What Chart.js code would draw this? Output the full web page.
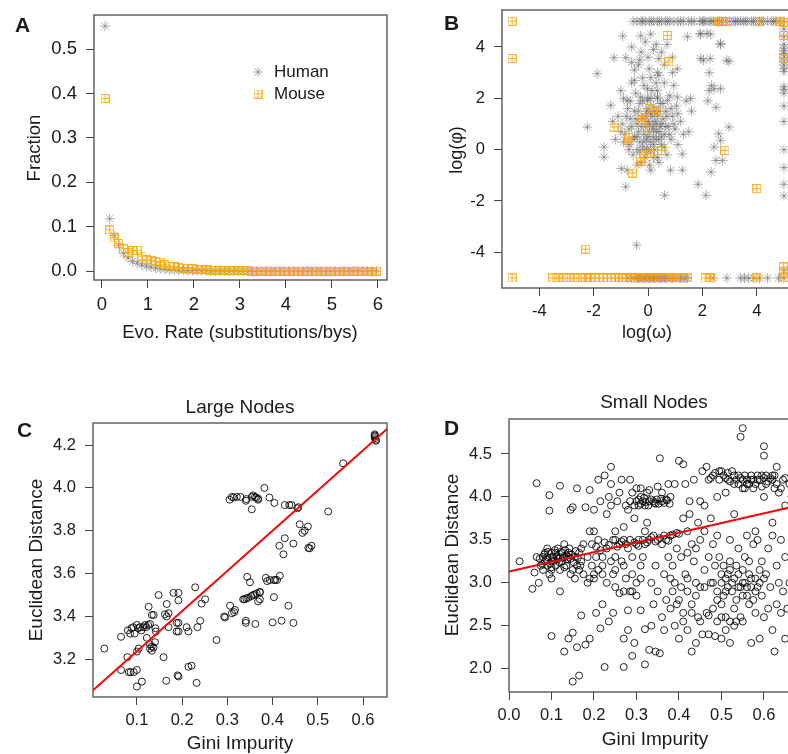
<!DOCTYPE html>
<html>
<head>
<meta charset="utf-8">
<script src="https://cdn.jsdelivr.net/npm/chart.js@4.4.0/dist/chart.umd.min.js"></script>
<style>
html, body { margin: 0; padding: 0; overflow: hidden; background: #fff; }
body { position: relative; width: 788px; height: 754px; font-family: "Liberation Sans", Arial, sans-serif; color: #1a1a1a; }
canvas { position: absolute; }
.lbl { position: absolute; white-space: nowrap; line-height: 1; transform: translate(-50%, -50%); }
.rot { transform: translate(-50%, -50%) rotate(-90deg); }
.tag { position: absolute; font-weight: bold; font-size: 21px; line-height: 21px; }
</style>
</head>
<body>
<canvas id="chartA" width="394" height="350" style="left:0;top:0"></canvas>
<canvas id="chartB" width="420" height="350" style="left:394px;top:0"></canvas>
<canvas id="chartC" width="394" height="374" style="left:0;top:380px"></canvas>
<canvas id="chartD" width="420" height="374" style="left:394px;top:380px"></canvas>

<div class="tag" style="left:15px;top:14px">A</div>
<div class="tag" style="left:444px;top:12px">B</div>
<div class="tag" style="left:17px;top:419px">C</div>
<div class="tag" style="left:444px;top:417px">D</div>

<div class="lbl rot" style="left:34px;top:148px;font-size:18.5px">Fraction</div>
<div class="lbl" style="left:240px;top:332px;font-size:18.5px">Evo. Rate (substitutions/bys)</div>
<div class="lbl rot" style="left:456px;top:150px;font-size:18px">log(φ)</div>
<div class="lbl" style="left:647px;top:332px;font-size:18px">log(ω)</div>
<div class="lbl" style="left:240px;top:406px;font-size:19px">Large Nodes</div>
<div class="lbl rot" style="left:35px;top:560px;font-size:19px">Euclidean Distance</div>
<div class="lbl" style="left:240px;top:742px;font-size:19px">Gini Impurity</div>
<div class="lbl" style="left:654px;top:401px;font-size:19px">Small Nodes</div>
<div class="lbl rot" style="left:451px;top:555px;font-size:19px">Euclidean Distance</div>
<div class="lbl" style="left:655px;top:738px;font-size:19px">Gini Impurity</div>

<script>
// ---- A: fraction of genes by evolutionary rate ----
const evoRate = [0.07,0.17,0.27,0.37,0.47,0.57,0.67,0.77,0.87,0.97,1.07,1.17,1.27,1.37,1.47,1.57,1.67,1.77,1.87,1.97,
  2.07,2.17,2.27,2.37,2.47,2.57,2.67,2.77,2.87,2.97,3.07,3.17,3.27,3.37,3.47,3.57,3.67,3.77,3.87,3.97,
  4.07,4.17,4.27,4.37,4.47,4.57,4.67,4.77,4.87,4.97,5.07,5.17,5.27,5.37,5.47,5.57,5.67,5.77,5.87,5.97];
const humanFrac = [0.552,0.118,0.080,0.058,0.040,0.030,0.022,0.018,0.014,0.011,0.009,0.007,0.005,0.004,0.003,0.003,0.002,0.002,0.001,0.001,
  0.001,0.001,0.001,0,0,0,0,0,0,0,0,0,0,0,0,0,0,0,0,0,
  0,0,0,0,0,0,0,0,0,0,0,0,0,0,0,0,0,0,0,0];
const mouseFrac = [0.389,0.093,0.075,0.062,0.050,0.042,0.046,0.047,0.034,0.026,0.023,0.022,0.020,0.014,0.011,0.010,0.008,0.007,0.007,0.006,
  0.004,0.003,0.003,0.002,0.002,0.001,0.002,0.001,0.001,0.001,0.001,0.001,0,0,0,0,0,0,0,0,
  0,0,0,0,0,0,0,0,0,0,0,0,0,0,0,0,0,0,0,0];
const ticksAx = [0,1,2,3,4,5,6];
const ticksAy = [0,0.1,0.2,0.3,0.4,0.5];

// ---- B: log(omega) vs log(phi) ----
const humanB = [
  [-0.55,5],[-0.4,5],[-0.25,5],[-0.1,5],[0.05,5],[0.2,5],[0.35,5],[0.5,5],[0.65,5],[0.8,5],[0.95,5],[1.1,5],[1.3,5],[1.5,5],[1.7,5],[1.9,5],
  [2.0,5],[2.1,5],[2.25,5],[2.4,5],[2.55,5],[2.7,5],[2.85,5],[3.0,5],[3.15,5],[3.3,5],[3.4,5],[3.5,5],[3.65,5],[3.8,5],[3.95,5],[4.1,5],
  [4.25,5],[4.4,5],[4.55,5],[4.7,5],[4.85,5],[5,5],
  [-0.2,5],[0.12,5],[0.42,5],[0.72,5],[1.2,5],[1.6,5],[2.05,5],[2.32,5],[2.62,5],[3.22,5],[3.58,5],[3.88,5],[4.18,5],[4.62,5],
  [5,4.7],[5,4.4],[5,4.1],[5,3.95],[5,3.85],[5,3.75],[5,3.6],[5,3.45],[5,3.3],[5,3.15],[5,3.05],[5,2.45],[5,2.35],[5,2.2],[5,1.7],[5,1.1],
  [5,0.0],[5,-0.7],[5,-1.35],[5,-1.8],[5,-4.7],
  [-0.75,-5],[-0.6,-5],[-0.5,-5],[-0.4,-5],[-0.3,-5],[-0.2,-5],[-0.1,-5],[0,-5],[0.1,-5],[0.2,-5],[0.3,-5],[0.4,-5],[0.5,-5],[0.6,-5],
  [0.7,-5],[0.85,-5],[1.0,-5],[1.15,-5],[1.3,-5],[1.45,-5],[2.4,-5],[2.9,-5],[3.4,-5],[3.55,-5],[3.7,-5],[3.9,-5],[4.1,-5],[4.4,-5],[4.8,-5],[5,-5],
  [-0.35,-5],[-0.15,-5],[0.05,-5],[0.25,-5],[0.45,-5],[0.65,-5],[0.9,-5],[1.2,-5],[1.4,-5],
  [-0.93,4.43],[-0.27,4.43],[0.1,4.5],[1.45,4.4],[1.94,4.5],[2.3,4.5],[2.67,4.1],[2.98,3.44],[1.94,3.55],[2.25,3.0],[-1.25,3.58],[-0.82,3.58],
  [-0.25,3.8],[0.4,3.55],[1.08,3.15],[-1.87,2.96],[-0.5,3.1],[0.04,3.15],[0.35,3.0],[-0.5,2.7],[-0.02,2.37],[0.35,2.3],[0.6,2.6],[0.95,2.5],
  [-1.0,2.3],[-0.76,1.9],[-1.37,1.73],[-0.27,2.05],[-0.02,1.92],[0.35,2.05],[0.72,1.92],[1.08,2.05],[1.57,1.99],[2.25,2.3],[2.43,2.37],
  [2.2,1.9],[2.5,1.65],[2.67,2.37],[2.33,2.5],[-2.23,0.88],[-1.62,0.1],[-1.62,-0.29],[-0.98,-0.74],[-0.76,-0.8],[-0.82,-1.45],[0.1,-0.8],
  [0.83,-0.8],[1.26,-0.17],[1.26,-0.8],[0.61,-1.78],[1.84,-1.35],[2.13,-1.78],[2.32,-0.87],[2.5,-0.42],[2.74,-0.42],[2.67,0.36],[2.98,0.88],
  [2.6,0.62],[2.43,0.1],[-0.42,-3.72],[1.92,4.52],[2.17,4.52],[2.66,4.13],[2.9,3.48],[2.04,3.48],[2.29,3.55],
  [-1.1,1.3],[-0.95,1.0],[-0.85,0.6],[-0.75,1.6],[-0.7,0.2],[-0.65,1.2],[-0.6,0.9],[-0.55,-0.2],[-0.5,0.5],[-0.5,1.5],[-0.45,2.2],[-0.4,0.0],
  [-0.4,1.0],[-0.35,0.7],[-0.3,1.8],[-0.3,0.3],[-0.25,-0.5],[-0.2,1.2],[-0.2,0.1],[-0.15,0.6],[-0.15,2.5],[-0.1,0.9],[-0.1,-0.3],[-0.05,1.5],
  [-0.05,0.4],[0,0],[0,1.1],[0,2.0],[0.05,0.7],[0.05,-0.6],[0.1,1.4],[0.1,0.3],[0.15,0.9],[0.15,2.3],[0.2,0.5],[0.2,1.7],[0.25,0],[0.25,1.1],
  [0.3,0.7],[0.3,2.6],[0.35,1.3],[0.35,-0.3],[0.4,0.4],[0.45,0.9],[0.45,1.8],[0.5,0.2],[0.55,1.2],[0.6,0.6],[0.65,1.5],[0.7,-0.2],[0.75,0.9],
  [0.8,2.1],[0.85,0.4],[0.9,1.3],[1.0,0.8],[1.05,1.7],[1.1,0.2],[1.2,1.1],[1.3,0.6],[1.4,1.9],[-0.6,2.6],[-0.9,2.0],[-1.2,0.4],[-0.35,3.3],
  [0.5,3.8],[0.7,4.1],[0.2,3.9],[-0.6,4.0],[0.9,3.6],
  [-0.9,0.3],[-0.8,1.3],[-0.7,0.8],[-0.65,1.9],[-0.55,0.4],[-0.45,1.2],[-0.4,0.5],[-0.35,1.5],[-0.3,-0.1],[-0.25,0.9],[-0.2,1.9],[-0.15,0.3],
  [-0.1,1.3],[-0.05,0.0],[0,0.5],[0,1.6],[0.05,1.0],[0.1,2.0],[0.1,0.0],[0.15,1.3],[0.2,0.8],[0.2,0.2],[0.25,1.5],[0.3,0.4],[0.3,1.0],
  [0.35,2.0],[0.4,0.7],[0.4,1.5],[0.5,1.0],[0.5,0.5],[0.55,1.8],[0.6,0.1],[0.65,0.9],[0.7,1.3],[0.8,0.6],[0.85,1.6],[0.95,1.0],[1.1,1.4],
  [-0.2,2.8],[0.1,2.8],[0.4,2.9],[-0.3,3.5],[0.0,3.6],[0.3,4.1],[-0.1,4.2],[0.6,3.3],[0.9,3.0],[-0.6,3.4],[-0.7,0.0],[-1.0,0.7],[-1.3,1.1],
  [1.5,0.7],[1.6,1.5],[0.2,-0.3],[-0.4,-0.6],[0.4,-0.5]
];
const mouseB = [
  [-5,5],[-5,3.55],[-5,-5],[0.71,4.45],[0.77,3.42],[-1.25,0.88],[-0.7,0.49],[-0.76,0.26],[-0.58,-0.91],[-0.27,-0.45],[-0.25,1.34],
  [-0.21,1.12],[0.04,1.6],[0.31,1.47],[-0.02,0.88],[0.5,-0.03],[0.1,-0.16],[-0.15,-0.2],[2.83,-0.03],[4.0,-1.52],[-2.29,-3.88],
  [4.98,4.45],[4.98,3.55],[4.98,-4.57],[4.98,-4.8],[5,4.97],[2.61,5],[2.75,5],[2.92,5],[4.09,5],[4.88,5],
  [-3.5,-5],[-3.3,-5],[-3.1,-5],[-2.9,-5],[-2.7,-5],[-2.5,-5],[-2.3,-5],[-2.1,-5],[-1.95,-5],[-1.8,-5],[-1.65,-5],[-1.5,-5],[-1.35,-5],
  [-1.2,-5],[-1.1,-5],[-0.95,-5],[-0.8,-5],[-0.65,-5],[-0.5,-5],[-0.35,-5],[-0.2,-5],[-0.05,-5],[0.1,-5],[0.3,-5],[0.5,-5],[0.7,-5],
  [0.9,-5],[1.1,-5],[1.3,-5],[1.45,-5],[2.1,-5],[2.3,-5],[4.0,-5],[5.0,-5]
];
const ticksB = [-4,-2,0,2,4];

// ---- C: large nodes ----
const largeNodes = [
  [0.028,3.25],[0.065,3.305],[0.065,3.15],[0.079,3.21],[0.082,3.14],[0.086,3.14],[0.093,3.14],
  [0.08,3.335],[0.085,3.32],[0.088,3.345],[0.092,3.35],[0.095,3.32],[0.1,3.36],[0.103,3.345],[0.107,3.35],[0.11,3.335],[0.114,3.35],
  [0.118,3.36],[0.121,3.35],[0.125,3.36],[0.129,3.365],[0.1,3.236],[0.104,3.25],[0.1,3.073],[0.1,3.15],[0.111,3.096],
  [0.122,3.30],[0.126,3.445],[0.133,3.407],[0.137,3.407],[0.129,3.27],[0.133,3.26],[0.137,3.255],[0.133,3.24],[0.129,3.25],
  [0.14,3.28],[0.142,3.33],[0.141,3.345],[0.148,3.50],[0.159,3.21],[0.162,3.41],[0.166,3.40],[0.17,3.415],[0.166,3.458],[0.165,3.10],
  [0.17,3.35],[0.181,3.51],[0.192,3.51],[0.192,3.475],[0.188,3.37],[0.192,3.37],[0.188,3.33],[0.192,3.33],[0.192,3.12],[0.19,3.125],
  [0.21,3.35],[0.214,3.33],[0.214,3.165],[0.221,3.17],[0.229,3.536],[0.234,3.35],[0.24,3.38],[0.243,3.46],[0.251,3.48],[0.232,3.09],
  [0.276,3.29],[0.293,3.40],[0.295,3.395],[0.306,3.45],[0.31,3.415],[0.317,3.43],[0.315,3.42],
  [0.305,3.945],[0.31,3.958],[0.314,3.955],[0.321,3.958],[0.329,3.958],[0.341,3.94],[0.342,3.948],[0.354,3.958],[0.357,3.965],
  [0.361,3.958],[0.364,3.955],[0.368,3.95],[0.368,3.945],[0.354,3.90],[0.382,4.0],[0.393,3.955],[0.404,3.93],[0.427,3.92],[0.437,3.92],
  [0.442,3.92],[0.455,3.905],[0.457,3.91],[0.523,3.89],[0.556,4.115],
  [0.626,4.25],[0.626,4.245],[0.626,4.24],[0.626,4.232],[0.628,4.225],[0.629,4.22],
  [0.46,3.83],[0.471,3.80],[0.466,3.79],[0.478,3.82],[0.415,3.73],[0.424,3.69],[0.427,3.765],[0.446,3.74],[0.479,3.72],[0.482,3.718],
  [0.486,3.73],[0.344,3.585],[0.35,3.56],[0.335,3.48],[0.338,3.48],[0.342,3.484],[0.346,3.487],[0.353,3.495],[0.357,3.5],[0.361,3.503],
  [0.365,3.508],[0.372,3.512],[0.368,3.47],[0.372,3.48],[0.372,3.515],[0.385,3.58],[0.388,3.565],[0.394,3.57],[0.403,3.57],[0.406,3.57],
  [0.41,3.57],[0.416,3.59],[0.403,3.49],[0.341,3.38],[0.341,3.37],[0.362,3.365],[0.4,3.372],[0.42,3.38],[0.446,3.37],[0.435,3.45]
];
const fitC = { a: 3.05, b: 1.876 };
const ticksCx = [0.1,0.2,0.3,0.4,0.5,0.6];
const ticksCy = [3.2,3.4,3.6,3.8,4.0,4.2];

// ---- D: small nodes ----
const smallNodes = [
  [0.025,3.25],[0.055,2.93],[0.06,3.12],[0.065,3.3],[0.07,3.0],[0.065,4.16],[0.075,3.2],[0.08,3.3],[0.08,3.15],[0.085,3.25],[0.085,3.35],
  [0.09,3.2],[0.09,3.3],[0.095,3.1],[0.095,4.02],[0.095,3.84],[0.1,3.25],[0.1,3.35],[0.1,2.38],[0.1,3.15],[0.1,3.05],
  [0.105,3.3],[0.11,3.2],[0.11,3.35],[0.115,3.28],[0.115,3.4],[0.12,3.3],[0.12,3.15],[0.12,4.13],[0.12,2.9],[0.125,3.35],[0.125,3.25],
  [0.13,3.3],[0.13,2.2],[0.13,3.45],[0.135,3.32],[0.135,3.2],[0.14,3.3],[0.14,3.35],[0.14,2.35],[0.145,3.28],[0.145,3.1],[0.145,3.85],
  [0.15,3.88],[0.15,1.85],[0.15,2.42],[0.155,3.3],[0.155,3.05],[0.16,3.2],[0.16,4.1],[0.16,2.25],[0.165,3.35],[0.165,3.15],[0.165,1.92],
  [0.17,3.4],[0.17,3.25],[0.17,2.62],[0.175,3.1],[0.175,3.45],[0.18,2.28],[0.18,3.88],[0.185,3.0],[0.185,3.3],[0.19,3.05],[0.19,3.6],
  [0.19,4.08],[0.19,2.35],[0.195,3.2],[0.195,3.45],
  [0.2,3.6],[0.2,3.1],[0.2,3.85],[0.205,3.3],[0.205,2.65],[0.21,3.15],[0.21,3.5],[0.21,4.2],[0.215,3.95],[0.215,2.47],[0.22,3.3],
  [0.22,3.2],[0.22,2.75],[0.225,4.25],[0.225,2.02],[0.23,3.4],[0.23,3.0],[0.23,3.8],[0.235,4.0],[0.235,2.55],[0.24,3.25],[0.24,4.15],
  [0.24,3.9],[0.24,4.35],[0.245,3.1],[0.245,2.65],[0.25,3.5],[0.25,3.3],[0.25,2.95],[0.255,3.95],[0.26,2.88],[0.26,3.45],[0.265,4.2],
  [0.265,3.25],[0.27,2.35],[0.27,3.5],[0.27,2.02],[0.275,3.05],[0.275,3.9],[0.28,3.4],[0.28,2.45],[0.28,2.68],[0.285,2.9],[0.285,4.2],
  [0.29,2.15],[0.29,3.3],[0.29,2.9],[0.295,3.75],[0.295,2.3],[0.3,3.45],[0.3,4.1],[0.3,3.0],
  [0.3,3.95],[0.305,3.9],[0.305,3.5],[0.31,4.0],[0.31,2.68],[0.31,3.05],[0.315,3.95],[0.315,3.3],[0.32,3.9],[0.32,2.05],[0.32,3.45],
  [0.32,2.46],[0.325,4.05],[0.325,3.7],[0.33,3.95],[0.33,3.5],[0.33,2.22],[0.335,3.0],[0.335,2.5],[0.34,3.95],[0.34,3.55],[0.34,2.75],
  [0.345,3.92],[0.345,2.2],[0.345,3.2],[0.35,3.5],[0.35,4.12],[0.35,2.9],[0.355,2.18],[0.355,4.45],[0.36,3.95],[0.36,3.45],[0.36,2.6],
  [0.36,4.05],[0.365,3.1],[0.365,2.45],[0.37,3.5],[0.37,3.97],[0.37,2.8],[0.375,4.15],[0.375,3.3],[0.38,2.7],[0.38,3.55],[0.38,4.0],
  [0.385,2.9],[0.385,3.2],[0.39,2.5],[0.39,3.0],[0.39,4.15],[0.395,3.4],[0.395,2.75],[0.4,4.42],[0.4,3.57],[0.4,2.35],
  [0.405,3.3],[0.405,2.95],[0.41,4.38],[0.41,3.75],[0.41,2.65],[0.415,3.1],[0.415,4.15],[0.42,3.6],[0.42,2.45],[0.42,2.9],[0.425,3.8],
  [0.425,3.95],[0.43,3.45],[0.43,2.2],[0.43,2.75],[0.435,3.25],[0.435,4.2],[0.44,3.0],[0.44,2.3],[0.445,3.7],[0.445,2.6],[0.45,3.95],
  [0.45,2.95],[0.45,3.5],[0.455,4.3],[0.455,2.4],[0.46,3.9],[0.46,2.95],[0.46,3.6],[0.465,4.35],[0.465,2.65],[0.47,3.3],[0.47,4.2],
  [0.47,2.4],[0.475,3.0],[0.475,3.75],[0.48,2.7],[0.48,4.25],[0.485,3.2],[0.485,2.38],[0.49,4.0],[0.49,2.8],[0.49,3.55],[0.495,3.3],
  [0.495,4.3],[0.5,2.6],[0.5,2.75],[0.5,3.0],
  [0.5,2.35],[0.505,4.25],[0.505,3.2],[0.51,2.9],[0.51,4.05],[0.51,2.45],[0.515,3.1],[0.515,4.2],[0.52,2.3],[0.52,3.25],[0.52,2.55],
  [0.525,4.3],[0.525,3.0],[0.53,4.15],[0.53,2.7],[0.53,3.8],[0.535,2.55],[0.535,3.2],[0.54,4.25],[0.54,2.95],[0.54,3.4],[0.545,4.7],
  [0.545,2.6],[0.55,4.8],[0.55,4.2],[0.55,3.0],[0.55,2.85],[0.555,4.1],[0.555,3.3],[0.56,2.95],[0.56,4.15],[0.56,3.55],[0.565,3.25],
  [0.565,2.75],[0.57,4.2],[0.57,3.05],[0.57,2.3],[0.575,3.45],[0.575,4.1],[0.58,2.9],[0.58,2.65],[0.585,4.2],[0.585,3.5],[0.59,3.0],
  [0.59,2.35],[0.595,4.25],[0.595,3.25],[0.6,4.59],[0.6,4.48],[0.6,4.0],[0.6,2.6],
  [0.605,4.15],[0.605,3.1],[0.61,2.7],[0.61,3.4],[0.615,4.22],[0.615,2.95],[0.62,4.25],[0.62,3.55],[0.62,2.45],[0.625,2.2],[0.625,4.1],
  [0.63,4.35],[0.63,3.2],[0.63,2.75],[0.635,3.0],[0.635,4.05],[0.64,2.65],[0.64,3.5],[0.645,2.9],[0.645,4.2],[0.65,2.35],[0.65,3.3],
  [0.655,2.7],[0.66,3.0],[0.665,4.0],[0.67,2.6],
  [0.072,3.28],[0.078,3.22],[0.083,3.33],[0.088,3.27],[0.092,3.36],[0.097,3.22],[0.102,3.3],[0.107,3.26],[0.108,3.38],[0.112,3.31],
  [0.118,3.24],[0.122,3.36],[0.127,3.29],[0.132,3.38],[0.137,3.27],[0.142,3.4],[0.147,3.33],[0.152,3.24],[0.157,3.37],[0.162,3.29],
  [0.168,3.2],[0.09,3.4],[0.1,3.18],[0.13,3.18],[0.15,3.15],
  [0.205,3.42],[0.215,3.38],[0.225,3.47],[0.235,3.44],[0.245,3.5],[0.255,3.42],[0.265,3.48],[0.275,3.45],[0.285,3.5],[0.295,3.47],
  [0.305,3.43],[0.315,3.5],[0.325,3.47],[0.335,3.53],[0.345,3.48],[0.355,3.52],[0.365,3.55],[0.375,3.49],[0.385,3.56],[0.395,3.58],
  [0.285,3.95],[0.295,3.9],[0.305,3.97],[0.31,3.92],[0.318,3.99],[0.322,3.94],[0.328,3.9],[0.335,3.97],[0.342,3.93],[0.348,3.97],
  [0.352,3.92],[0.358,3.98],[0.365,3.93],[0.372,3.96],[0.378,3.92],[0.31,4.1],[0.33,4.08],[0.29,4.05],
  [0.475,4.22],[0.485,4.28],[0.495,4.2],[0.5,4.3],[0.51,4.22],[0.515,4.28],[0.52,4.18],[0.53,4.25],[0.535,4.2],[0.54,4.15],[0.545,4.22],
  [0.55,4.1],[0.555,4.25],[0.56,4.2],[0.565,4.15],[0.57,4.25],[0.575,4.2],[0.58,4.15],[0.585,4.25],[0.59,4.2],[0.595,4.12],[0.6,4.22],
  [0.605,4.25],[0.61,4.18],[0.62,4.2],[0.625,4.25],[0.63,4.15],[0.64,4.1],[0.65,4.22],
  [0.48,3.0],[0.49,2.9],[0.5,3.1],[0.505,2.85],[0.51,3.05],[0.515,2.95],[0.52,3.15],[0.525,2.9],[0.53,3.05],[0.535,2.8],[0.54,3.1],
  [0.545,2.95],[0.55,3.15],[0.555,3.0],[0.56,2.85],[0.565,3.1],[0.57,2.95],[0.575,2.8],[0.58,3.05],[0.585,2.95],[0.59,3.15],[0.595,2.85],
  [0.6,3.05],[0.41,2.55],[0.43,2.65],[0.45,2.55],[0.47,2.62],[0.49,2.55],[0.51,2.6],[0.53,2.5],[0.55,2.55],[0.44,2.85],[0.42,3.05],
  [0.46,3.15],[0.38,3.05],[0.4,2.8],[0.2,3.05],[0.22,3.1],[0.25,3.15],[0.27,3.2],[0.29,3.1],[0.31,3.2],[0.27,2.9],[0.3,2.85],[0.25,3.6],
  [0.27,3.65],[0.32,3.6],[0.26,4.05],[0.28,3.85],[0.42,3.35],[0.44,3.4],[0.48,3.45],[0.52,3.5],[0.58,3.6],[0.62,3.7],[0.65,3.9],
  [0.66,4.15],[0.67,3.3],[0.68,2.7]
];
const fitD = { a: 3.13, b: 1.13 };
const ticksDx = [0,0.1,0.2,0.3,0.4,0.5,0.6];
const ticksDy = [2.0,2.5,3.0,3.5,4.0,4.5];

const FONT = "'Liberation Sans', Arial, sans-serif";
Chart.defaults.font.family = FONT;
Chart.defaults.color = '#1a1a1a';

const GRAY = 'rgba(105,105,105,0.55)';
const ORANGE = 'rgba(255,160,0,0.8)';

function squarePlus(color) {
  const c = document.createElement('canvas');
  c.width = 9; c.height = 9;
  const g = c.getContext('2d');
  g.strokeStyle = color;
  g.lineWidth = 1;
  g.strokeRect(0.5, 0.5, 8, 8);
  g.beginPath();
  g.moveTo(4.5, 1); g.lineTo(4.5, 8);
  g.moveTo(1, 4.5); g.lineTo(8, 4.5);
  g.stroke();
  return c;
}
const sqOrange = squarePlus(ORANGE);

const pts = arr => arr.map(p => ({ x: p[0], y: p[1] }));

function axis(min, max, ticks, fmt, size, fontSize, pad) {
  return {
    type: 'linear', min, max,
    afterBuildTicks: s => { s.ticks = ticks.map(v => ({ value: v })); },
    afterFit: s => {
      if (s.isHorizontal()) s.height = size; else s.width = size;
      s.paddingTop = 0; s.paddingBottom = 0; s.paddingLeft = 0; s.paddingRight = 0;
    },
    grid: { display: true, drawOnChartArea: false, drawTicks: true, tickLength: 8, color: '#444', lineWidth: 1 },
    border: { display: false },
    ticks: { color: '#1a1a1a', font: { size: fontSize }, padding: pad, maxRotation: 0, autoSkip: false,
      callback: v => fmt(v) }
  };
}

const boxPlugin = {
  id: 'box',
  afterDraw(chart) {
    const { ctx, chartArea: a } = chart;
    ctx.save();
    ctx.strokeStyle = '#4a4a4a';
    ctx.lineWidth = 1.3;
    ctx.strokeRect(a.left, a.top, a.right - a.left, a.bottom - a.top);
    ctx.restore();
  }
};

function baseOptions(padding, xs, ys) {
  return {
    responsive: false,
    animation: false,
    devicePixelRatio: 1,
    layout: { padding, autoPadding: false },
    plugins: { legend: { display: false }, tooltip: { enabled: false } },
    scales: { x: xs, y: ys }
  };
}

// A legend, drawn inside the plot like R's legend(bty = "n")
const legendA = {
  id: 'legendA',
  afterDraw(chart) {
    const ctx = chart.ctx;
    ctx.save();
    ctx.strokeStyle = GRAY;
    ctx.lineWidth = 1;
    Chart.helpers.drawPoint(ctx, { pointStyle: 'star', radius: 5, borderWidth: 1 }, 258, 72);
    ctx.drawImage(sqOrange, 258 - 4.5, 94 - 4.5);
    ctx.fillStyle = '#1a1a1a';
    ctx.font = '17px ' + FONT;
    ctx.textBaseline = 'middle';
    ctx.fillText('Human', 274, 72);
    ctx.fillText('Mouse', 274, 94);
    ctx.restore();
  }
};

new Chart(document.getElementById('chartA'), {
  type: 'scatter',
  data: {
    datasets: [
      { label: 'Mouse', data: evoRate.map((x, i) => ({ x, y: mouseFrac[i] })), pointStyle: sqOrange, order: 0 },
      { label: 'Human', data: evoRate.map((x, i) => ({ x, y: humanFrac[i] })), pointStyle: 'star', pointRadius: 5,
        borderColor: GRAY, backgroundColor: GRAY, pointBorderWidth: 1, order: 1 }
    ]
  },
  options: baseOptions({ top: 15, right: 7, left: 0, bottom: 0 },
    axis(-0.17, 6.2, ticksAx, v => String(v), 70, 18.5, 6),
    axis(-0.02, 0.577, ticksAy, v => v.toFixed(1), 94, 18.5, 9)),
  plugins: [boxPlugin, legendA]
});

// B
new Chart(document.getElementById('chartB'), {
  type: 'scatter',
  data: {
    datasets: [
      { label: 'Mouse', data: pts(mouseB), pointStyle: sqOrange, order: 0 },
      { label: 'Human', data: pts(humanB), pointStyle: 'star', pointRadius: 5,
        borderColor: GRAY, backgroundColor: GRAY, pointBorderWidth: 1, order: 1 }
    ]
  },
  options: baseOptions({ top: 10, right: 20, left: 0, bottom: 0 },
    axis(-5.37, 5.37, ticksB, v => String(v), 62, 16.5, 6),
    axis(-5.39, 5.44, ticksB, v => String(v), 108, 16.5, 9)),
  plugins: [boxPlugin]
});

// C
const xC = [0.003, 0.653];
new Chart(document.getElementById('chartC'), {
  type: 'scatter',
  data: {
    datasets: [
      { type: 'line', data: xC.map(x => ({ x, y: fitC.a + fitC.b * x })), borderColor: '#ff0000', borderWidth: 2,
        pointRadius: 0, order: 0 },
      { data: pts(largeNodes), pointStyle: 'circle', pointRadius: 3.5, borderColor: 'rgba(0,0,0,0.85)',
        backgroundColor: 'rgba(0,0,0,0)', pointBorderWidth: 1, order: 1 }
    ]
  },
  options: baseOptions({ top: 43, right: 7, left: 0, bottom: 0 },
    axis(xC[0], xC[1], ticksCx, v => v.toFixed(1), 57, 16.5, 6),
    axis(3.024, 4.303, ticksCy, v => v.toFixed(1), 93, 16.5, 9)),
  plugins: [boxPlugin]
});

// D
const xD = [0, 0.699];
new Chart(document.getElementById('chartD'), {
  type: 'scatter',
  data: {
    datasets: [
      { type: 'line', data: xD.map(x => ({ x, y: fitD.a + fitD.b * x })), borderColor: '#ff0000', borderWidth: 2,
        pointRadius: 0, order: 0 },
      { data: pts(smallNodes), pointStyle: 'circle', pointRadius: 3.5, borderColor: 'rgba(0,0,0,0.85)',
        backgroundColor: 'rgba(0,0,0,0)', pointBorderWidth: 1, order: 1 }
    ]
  },
  options: baseOptions({ top: 39, right: 8, left: 0, bottom: 0 },
    axis(xD[0], xD[1], ticksDx, v => v.toFixed(1), 62, 16.5, 6),
    axis(1.729, 4.907, ticksDy, v => v.toFixed(1), 115, 16.5, 9)),
  plugins: [boxPlugin]
});
</script>
</body>
</html>
